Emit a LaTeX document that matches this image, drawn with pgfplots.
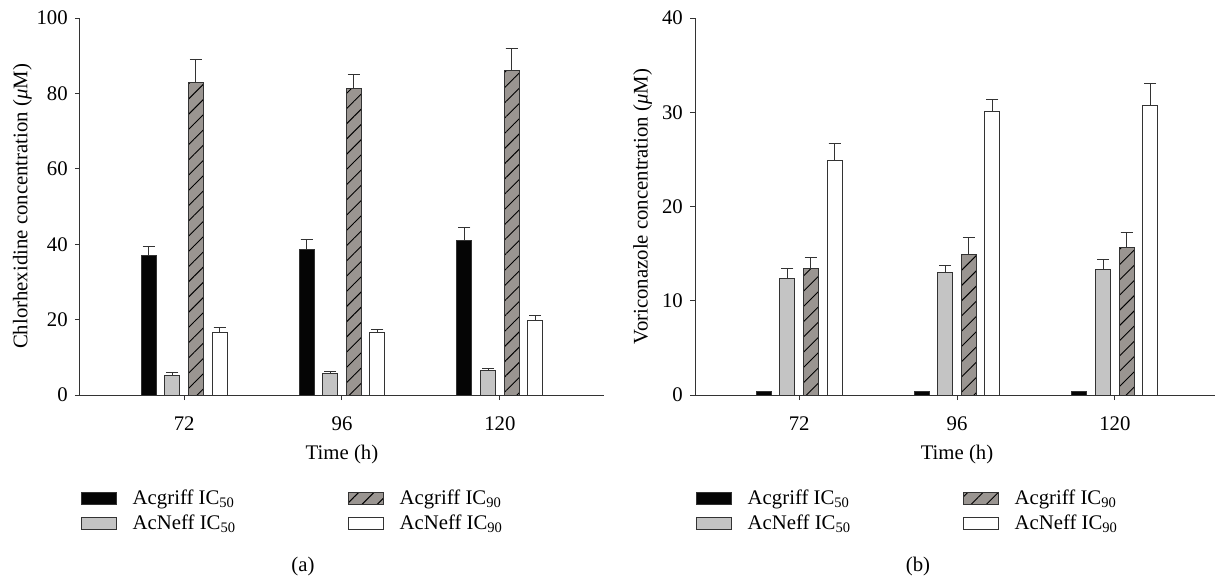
\documentclass[border=0pt]{standalone}
\usepackage{fontspec}
\setmainfont{Liberation Serif}
\usepackage{pgfplots}
\pgfplotsset{compat=1.18}
\usetikzlibrary{patterns.meta}

\definecolor{barblack}{HTML}{050505}
\definecolor{bargray}{HTML}{C4C4C4}
\definecolor{barhatch}{HTML}{9A9591}
\definecolor{edge}{HTML}{333333}

\pgfplotsset{
  panel/.style={
    scale only axis, width=340.6pt, height=245.05pt,
    anchor=south west, clip=false,
    axis x line*=bottom, axis y line*=left,
    axis line style={edge, line width=0.65pt},
    tick align=outside, major tick length=3.25pt,
    tick style={edge, line width=0.65pt},
    xmin=-0.66, xmax=2.66, ymin=0,
    xtick={0,1,2}, xticklabels={72,96,120},
    xticklabel style={yshift=-6pt},
    minor tick num=0,
    /pgf/number format/assume math mode=true,
    xlabel={Time (h)},
    xlabel style={at={(axis description cs:0.5,-0.158)}, anchor=center},
    legend columns=2,
    legend cell align=left,
    legend style={draw=none, fill=none, inner sep=0pt,
      at={(axis description cs:0.002,-0.243)}, anchor=north west,
      /tikz/every odd column/.append style={column sep=8pt},
      /tikz/every even column/.append style={column sep=71pt},
      /tikz/row sep=0.5pt},
    legend image code/.code={\draw[#1] (0pt,-3.9pt) rectangle (22.75pt,3.9pt);},
  },
  bars/.style={ybar, bar width=9.75pt, bar shift=#1, draw=edge, line width=0.65pt, forget plot,
    error bars/y dir=plus, error bars/y explicit,
    error bars/draw error bar/.code 2 args={%
      \draw[edge, line width=0.65pt, xshift=#1] ##1 -- ##2 ++(-3.9pt,0) -- ++(7.8pt,0);}},
  hatch/.style={fill=barhatch,
    postaction={pattern={Lines[angle=45, distance=7pt, line width=0.6pt]}, pattern color=black}},
}

\begin{document}
\fontsize{13.5}{16}\selectfont
\begin{tikzpicture}
\useasboundingbox (-52pt,-118.3pt) rectangle (737.75pt,256.75pt);

% (a) chlorhexidine
\begin{axis}[panel, at={(0pt,0pt)},
  ymax=100, ytick={0,20,40,60,80,100},
  ylabel={Chlorhexidine concentration (\textit{μ}M)},
  ylabel style={at={(axis description cs:-0.11,0.5)}, anchor=center},
]
\addplot[bars=-23pt, fill=barblack] coordinates {
  (0,36.9) +- (0,2.4)
  (1,38.6) +- (0,2.7)
  (2,40.9) +- (0,3.5)
};
\addplot[bars=-7.67pt, fill=bargray] coordinates {
  (0,5.3) +- (0,0.6)
  (1,5.6) +- (0,0.6)
  (2,6.4) +- (0,0.5)
};
\addplot[bars=7.67pt, hatch] coordinates {
  (0,82.9) +- (0,6.1)
  (1,81.3) +- (0,3.8)
  (2,86.0) +- (0,6.0)
};
\addplot[bars=23pt, fill=white] coordinates {
  (0,16.6) +- (0,1.3)
  (1,16.5) +- (0,0.8)
  (2,19.7) +- (0,1.5)
};
\addlegendimage{fill=barblack, draw=edge, line width=0.65pt}
\addlegendentry{Acgriff IC\textsubscript{50}}
\addlegendimage{hatch, draw=edge, line width=0.65pt}
\addlegendentry{Acgriff IC\textsubscript{90}}
\addlegendimage{fill=bargray, draw=edge, line width=0.65pt}
\addlegendentry{AcNeff IC\textsubscript{50}}
\addlegendimage{fill=white, draw=edge, line width=0.65pt}
\addlegendentry{AcNeff IC\textsubscript{90}}
\node at (axis description cs:0.4256,-0.456) {(a)};
\end{axis}

% (b) voriconazole
\begin{axis}[panel, at={(399.75pt,0pt)},
  ymax=40, ytick={0,10,20,30,40},
  ylabel={Voriconazole concentration (\textit{μ}M)},
  ylabel style={at={(axis description cs:-0.1,0.5)}, anchor=center},
]
\addplot[bars=-23pt, fill=barblack] coordinates {
  (0,0.4) +- (0,0)
  (1,0.4) +- (0,0)
  (2,0.4) +- (0,0)
};
\addplot[bars=-7.67pt, fill=bargray] coordinates {
  (0,12.4) +- (0,1.0)
  (1,13.0) +- (0,0.7)
  (2,13.3) +- (0,1.1)
};
\addplot[bars=7.67pt, hatch] coordinates {
  (0,13.4) +- (0,1.2)
  (1,14.9) +- (0,1.8)
  (2,15.7) +- (0,1.5)
};
\addplot[bars=23pt, fill=white] coordinates {
  (0,24.9) +- (0,1.8)
  (1,30.1) +- (0,1.3)
  (2,30.7) +- (0,2.4)
};
\addlegendimage{fill=barblack, draw=edge, line width=0.65pt}
\addlegendentry{Acgriff IC\textsubscript{50}}
\addlegendimage{hatch, draw=edge, line width=0.65pt}
\addlegendentry{Acgriff IC\textsubscript{90}}
\addlegendimage{fill=bargray, draw=edge, line width=0.65pt}
\addlegendentry{AcNeff IC\textsubscript{50}}
\addlegendimage{fill=white, draw=edge, line width=0.65pt}
\addlegendentry{AcNeff IC\textsubscript{90}}
\node at (axis description cs:0.4256,-0.456) {(b)};
\end{axis}
\end{tikzpicture}
\end{document}
